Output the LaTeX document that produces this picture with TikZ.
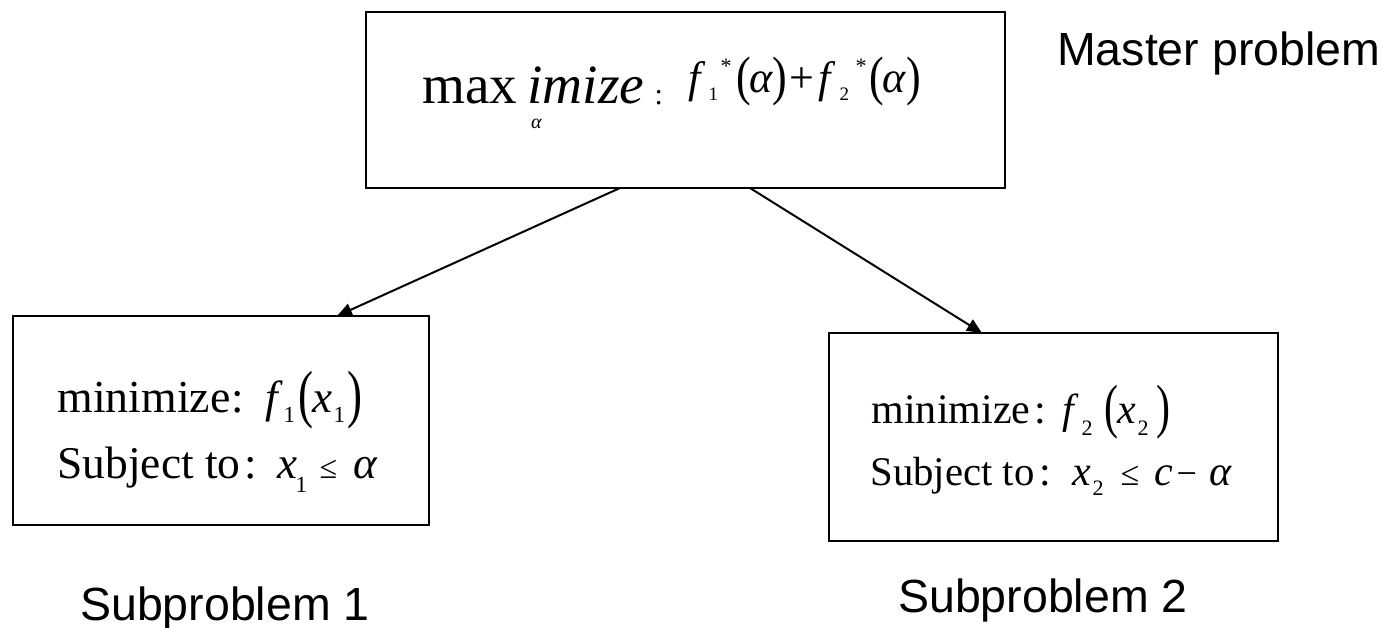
\documentclass[tikz,border=0pt]{standalone}
\usepackage{graphicx}
\usepackage{fontspec}
\setmainfont{Liberation Serif}
\newfontfamily\labelfont{Liberation Sans}
\usetikzlibrary{arrows.meta}

% font size shortcut
\newcommand{\fs}[1]{\fontsize{#1}{#1}\selectfont}
% place a glyph group at a horizontal offset (pt) and vertical raise (pt)
\newcommand{\gl}[3]{\rlap{\hspace*{#1pt}\raisebox{#2pt}{#3}}}
% a word set to a given width (pt) at a given font size
\newcommand{\fitword}[3]{\resizebox{#1pt}{!}{\fs{#2}#3}}
% tall parentheses
\newcommand{\tallp}[2]{\scalebox{1}[#1]{#2}}

\tikzset{
  pbox/.style={draw, line width=2.3pt, inner sep=0pt, outer sep=0pt},
  txt/.style={anchor=base west, inner sep=0pt, outer sep=0pt},
  caption/.style={anchor=base west, inner sep=0pt, font=\labelfont\fs{46.5}},
  arr/.style={line width=2pt, -{Triangle[length=15pt,width=13pt]}}
}

\begin{document}
\begin{tikzpicture}[x=1pt,y=-1pt]
\useasboundingbox (0,0) rectangle (1393,627);

% boxes
\node[pbox, minimum width=639pt, minimum height=176pt] (master) at (685.5,100) {};
\node[pbox, minimum width=416pt, minimum height=209pt] (sub1) at (221,420.5) {};
\node[pbox, minimum width=449pt, minimum height=208pt] (sub2) at (1053.5,437) {};

% master objective
\node[txt] (maxword) at (422,103) {%
  \gl{0}{0}{\smash{\fitword{95}{55}{max}}}%
  \gl{105}{0}{\smash{\fitword{117}{55}{\itshape imize}}}%
  \gl{232}{-1}{\fs{30}:}};
\node[txt] (maxsub) at (531,128) {\fs{20}\itshape α};
\node[txt] (mobj) at (688,92) {%
  \gl{0}{0}{\fs{44}\itshape f}%
  \gl{20}{-8}{\fs{19}1}%
  \gl{32}{19}{\fs{22}*}%
  \gl{48}{-2}{\fs{44}\tallp{1.23}{(}}%
  \gl{61}{0}{\fs{44}\itshape α}%
  \gl{84}{-2}{\fs{44}\tallp{1.23}{)}}%
  \gl{101}{0}{\fs{44}+}%
  \gl{130}{0}{\fs{44}\itshape f}%
  \gl{151}{-8}{\fs{19}2}%
  \gl{167}{19}{\fs{22}*}%
  \gl{181}{-2}{\fs{44}\tallp{1.23}{(}}%
  \gl{194}{0}{\fs{44}\itshape α}%
  \gl{218}{-2}{\fs{44}\tallp{1.23}{)}}%
};

% subproblem 1
\node[txt] (min1) at (57,412) {%
  \gl{0}{0}{\fitword{173}{45}{minimize}}\gl{174}{0}{\fs{45}:}};
\node[txt] (obj1) at (265,412) {%
  \gl{0}{0}{\fs{45}\itshape f}%
  \gl{18}{-10}{\fs{23}1}%
  \gl{33}{-3}{\fs{45}\tallp{1.42}{(}}%
  \gl{47}{0}{\fs{45}\itshape x}%
  \gl{68}{-10}{\fs{23}1}%
  \gl{82}{-3}{\fs{45}\tallp{1.42}{)}}%
};
\node[txt] (st1) at (57,478) {%
  \gl{0}{0}{\fitword{183}{45}{Subject to}}\gl{187}{0}{\fs{45}:}};
\node[txt] (con1) at (277,478) {%
  \gl{0}{0}{\fs{45}\itshape x}%
  \gl{18}{-14}{\fs{23}1}%
  \gl{42}{0}{\fs{32}≤}%
  \gl{76}{0}{\fs{45}\itshape α}%
};

% subproblem 2
\node[txt] (min2) at (871,423) {%
  \gl{0}{0}{\fitword{159}{42}{minimize}}\gl{163}{0}{\fs{42}:}};
\node[txt] (obj2) at (1062,423) {%
  \gl{0}{0}{\fs{42}\itshape f}%
  \gl{19}{-12}{\fs{22}2}%
  \gl{42}{-3}{\fs{42}\tallp{1.42}{(}}%
  \gl{55}{0}{\fs{42}\itshape x}%
  \gl{75}{-12}{\fs{22}2}%
  \gl{94}{-3}{\fs{42}\tallp{1.42}{)}}%
};
\node[txt] (st2) at (870,485) {%
  \gl{0}{0}{\fitword{164}{42}{Subject to}}\gl{169}{0}{\fs{42}:}};
\node[txt] (con2) at (1072,485) {%
  \gl{0}{0}{\fs{42}\itshape x}%
  \gl{20}{-10}{\fs{22}2}%
  \gl{48}{0}{\fs{34}≤}%
  \gl{82}{0}{\fs{42}\itshape c}%
  \gl{104}{0}{\fs{36}−}%
  \gl{137}{0}{\fs{42}\itshape α}%
};

% captions
\node[caption] (mastercap) at (1057,65) {Master problem};
\node[caption] (sub1cap) at (80,620) {Subproblem 1};
\node[caption] (sub2cap) at (898,612) {Subproblem 2};

% connectors
\draw[arr] ([xshift=-65.5pt]master.south) -- ([xshift=116pt]sub1.north);
\draw[arr] ([xshift=64.5pt]master.south) -- ([xshift=-71.5pt]sub2.north);
\end{tikzpicture}
\end{document}
